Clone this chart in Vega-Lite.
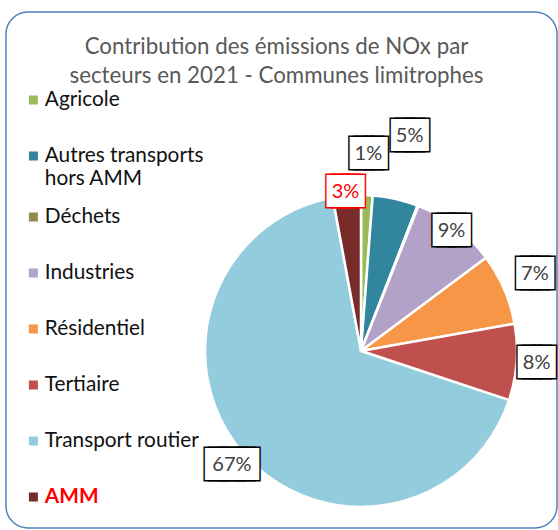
{
  "$schema": "https://vega.github.io/schema/vega-lite/v6.json",
  "autosize": {"type": "pad"},
  "padding": {"left": 5, "top": 11, "right": 0, "bottom": 0},
  "background": "white",
  "vconcat": [
    {
      "width": 551,
      "height": 516,
      "view": {"stroke": "#4F81BD", "strokeWidth": 1.5, "cornerRadius": 22, "fill": null},
      "title": {
        "text": ["Contribution des émissions de NOx par", "secteurs en 2021 - Communes limitrophes"],
        "font": "Lato",
        "fontSize": 22.3,
        "fontWeight": "normal",
        "color": "#595959",
        "anchor": "middle",
        "frame": "group",
        "dx": -5,
        "offset": -98,
        "lineHeight": 29,
        "baseline": "bottom"
      },
      "data": {
        "values": [
          {"secteur": "Agricole", "valeur": 0.012, "ordre": 1},
          {"secteur": "Autres transports hors AMM", "valeur": 0.047, "ordre": 2},
          {"secteur": "Déchets", "valeur": 0.001, "ordre": 3},
          {"secteur": "Industries", "valeur": 0.088, "ordre": 4},
          {"secteur": "Résidentiel", "valeur": 0.074, "ordre": 5},
          {"secteur": "Tertiaire", "valeur": 0.079, "ordre": 6},
          {"secteur": "Transport routier", "valeur": 0.670, "ordre": 7},
          {"secteur": "AMM", "valeur": 0.029, "ordre": 8}
        ]
      },
      "encoding": {
        "theta": {"field": "valeur", "type": "quantitative", "stack": true},
        "order": {"field": "ordre", "type": "quantitative"}
      },
      "layer": [
        {
          "mark": {"type": "arc", "outerRadius": 156, "stroke": "white", "strokeWidth": 2.5, "xOffset": 79.5, "yOffset": 81},
          "encoding": {
            "color": {
              "field": "secteur",
              "type": "nominal",
              "scale": {
                "domain": ["Agricole", "Autres transports hors AMM", "Déchets", "Industries", "Résidentiel", "Tertiaire", "Transport routier", "AMM"],
                "range": ["#9BBB59", "#31859C", "#948A54", "#B3A2C7", "#F79646", "#C0504D", "#93CDDD", "#772C2A"]
              },
              "legend": {
                "title": null,
                "orient": "none",
                "direction": "vertical",
                "legendX": 17,
                "legendY": 60,
                "symbolType": "square",
                "symbolSize": 81,
                "symbolStrokeWidth": 0,
                "labelFont": "Lato",
                "labelFontSize": 20.8,
                "labelColor": {"expr": "datum.value === 'AMM' ? '#FF0000' : '#111111'"},
                "labelFontWeight": {"expr": "datum.value === 'AMM' ? 'bold' : 'normal'"},
                "labelBaseline": "middle",
                "labelOffset": 1,
                "labelLimit": 400,
                "clipHeight": 55.9,
                "rowPadding": 0,
                "labelExpr": "datum.value === 'Autres transports hors AMM' ? ['Autres transports', 'hors AMM'] : datum.label"
              }
            }
          }
        },
        {
          "transform": [{"filter": "datum.valeur >= 0.005"}],
          "mark": {"type": "text", "font": "DejaVu Sans Mono", "fontSize": 27, "align": "center", "baseline": "middle", "xOffset": 79.5, "yOffset": 81, "dx": -2.5, "strokeWidth": 3},
          "encoding": {
            "detail": {"field": "secteur"},
            "radius": {"field": "valeur", "type": "quantitative", "scale": {"type": "linear", "zero": false, "nice": false, "domain": [0.012, 0.029, 0.047, 0.074, 0.079, 0.088, 0.670], "range": [197, 160, 220, 190, 176, 150, 172]}},
            "text": {"condition": {"test": "datum.valeur >= 0.095", "value": "███"}, "value": "██"},
            "fill": {"condition": {"test": "datum.secteur === 'AMM'", "value": "#FF0000"}, "value": "#000000"},
            "stroke": {"condition": {"test": "datum.secteur === 'AMM'", "value": "#FF0000"}, "value": "#000000"}
          }
        },
        {
          "transform": [{"filter": "datum.valeur >= 0.005"}],
          "mark": {"type": "text", "font": "DejaVu Sans Mono", "fontSize": 27, "align": "center", "baseline": "middle", "xOffset": 79.5, "yOffset": 81, "dx": 2.5, "strokeWidth": 3},
          "encoding": {
            "detail": {"field": "secteur"},
            "radius": {"field": "valeur", "type": "quantitative"},
            "text": {"condition": {"test": "datum.valeur >= 0.095", "value": "███"}, "value": "██"},
            "fill": {"condition": {"test": "datum.secteur === 'AMM'", "value": "#FF0000"}, "value": "#000000"},
            "stroke": {"condition": {"test": "datum.secteur === 'AMM'", "value": "#FF0000"}, "value": "#000000"}
          }
        },
        {
          "transform": [{"filter": "datum.valeur >= 0.005"}],
          "mark": {"type": "text", "font": "DejaVu Sans Mono", "fontSize": 27, "align": "center", "baseline": "middle", "xOffset": 79.5, "yOffset": 81, "dx": -2.5, "fill": "white"},
          "encoding": {
            "detail": {"field": "secteur"},
            "radius": {"field": "valeur", "type": "quantitative"},
            "text": {"condition": {"test": "datum.valeur >= 0.095", "value": "███"}, "value": "██"}
          }
        },
        {
          "transform": [{"filter": "datum.valeur >= 0.005"}],
          "mark": {"type": "text", "font": "DejaVu Sans Mono", "fontSize": 27, "align": "center", "baseline": "middle", "xOffset": 79.5, "yOffset": 81, "dx": 2.5, "fill": "white"},
          "encoding": {
            "detail": {"field": "secteur"},
            "radius": {"field": "valeur", "type": "quantitative"},
            "text": {"condition": {"test": "datum.valeur >= 0.095", "value": "███"}, "value": "██"}
          }
        },
        {
          "transform": [{"filter": "datum.valeur >= 0.005"}],
          "mark": {"type": "text", "font": "Lato", "fontSize": 20, "align": "center", "baseline": "middle", "xOffset": 79.5, "yOffset": 81},
          "encoding": {
            "detail": {"field": "secteur"},
            "radius": {"field": "valeur", "type": "quantitative"},
            "text": {"field": "valeur", "type": "quantitative", "format": ".0%"},
            "fill": {"condition": {"test": "datum.secteur === 'AMM'", "value": "#FF0000"}, "value": "#404040"}
          }
        }
      ]
    }
  ],
  "config": {"view": {"stroke": null}}
}
